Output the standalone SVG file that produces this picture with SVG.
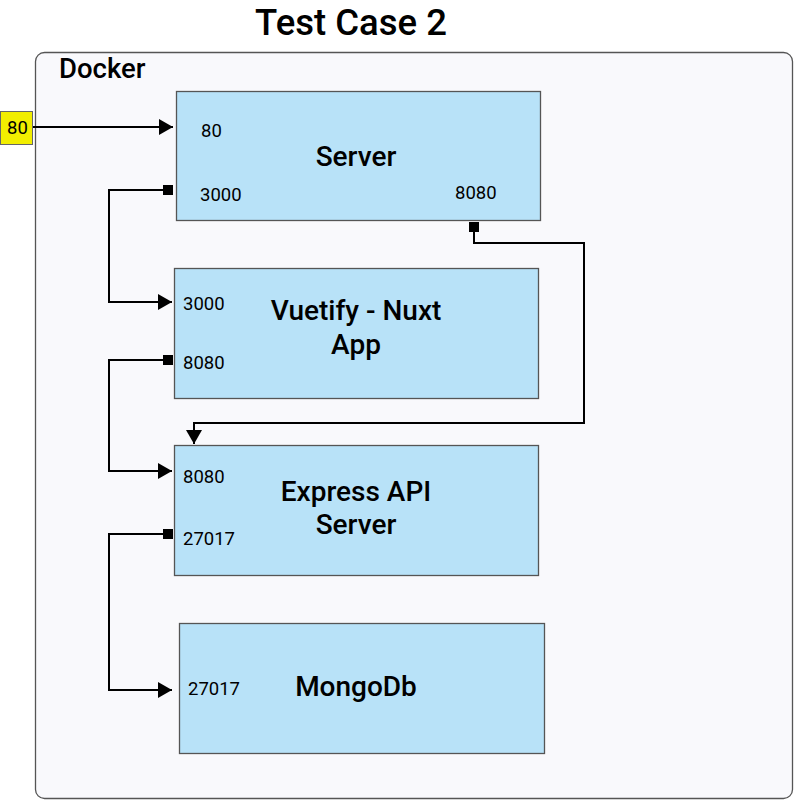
<svg xmlns="http://www.w3.org/2000/svg" width="794" height="800" viewBox="0 0 794 800">
<defs>
<marker id="arr" viewBox="0 0 14 16" refX="14" refY="8" markerWidth="14" markerHeight="16" markerUnits="userSpaceOnUse" orient="auto"><path d="M0,0 L14,8 L0,16 Z" fill="#000"/></marker>
</defs>
<style>
.box{fill:#b8e2f8;stroke:#555;stroke-width:1.3}
.lbl{font-family:Roboto,"Liberation Sans",sans-serif;font-size:28px;font-weight:500;fill:#000;text-anchor:middle}
.port{font-family:Roboto,"Liberation Sans",sans-serif;font-size:18.5px;fill:#000}
.con{fill:none;stroke:#000;stroke-width:2}
.sq{fill:#000}
</style>
<rect width="794" height="800" fill="#fff"/>
<text x="351" y="34.5" style="font-family:Roboto,'Liberation Sans',sans-serif;font-size:36.5px;font-weight:500;text-anchor:middle">Test Case 2</text>
<g id="docker">
<rect x="35.5" y="52.5" width="757" height="746" rx="9" fill="#f9f9fc" stroke="#555" stroke-width="1.3"/>
<text x="59" y="78" style="font-family:Roboto,'Liberation Sans',sans-serif;font-size:27.5px;font-weight:500">Docker</text>
</g>
<g id="port80">
<rect x="0.5" y="111.5" width="32" height="33" fill="#f2ee00" stroke="#666" stroke-width="1"/>
<text x="17.5" y="134" class="port" text-anchor="middle">80</text>
</g>
<g id="server">
<rect class="box" x="176.5" y="91.5" width="364" height="129"/>
<text class="lbl" x="356" y="166">Server</text>
<text class="port" x="201" y="137">80</text>
<text class="port" x="200" y="201">3000</text>
<text class="port" x="455" y="199">8080</text>
</g>
<g id="vuetify">
<rect class="box" x="174.5" y="268.5" width="364" height="130"/>
<text class="lbl" x="356" y="320">Vuetify - Nuxt</text>
<text class="lbl" x="356" y="354">App</text>
<text class="port" x="183" y="310">3000</text>
<text class="port" x="183" y="369">8080</text>
</g>
<g id="express">
<rect class="box" x="174.5" y="445.5" width="364" height="130"/>
<text class="lbl" x="356" y="501">Express API</text>
<text class="lbl" x="356" y="534">Server</text>
<text class="port" x="183" y="483">8080</text>
<text class="port" x="183" y="545">27017</text>
</g>
<g id="mongodb">
<rect class="box" x="179.5" y="623.5" width="365" height="130"/>
<text class="lbl" x="356" y="696">MongoDb</text>
<text class="port" x="188" y="695">27017</text>
</g>
<g id="connectors">
<path class="con" d="M33,127 L173,127" marker-end="url(#arr)"/>
<path class="con" d="M168,190 L109,190 L109,302 L172,302" marker-end="url(#arr)"/>
<rect class="sq" x="163" y="185" width="10" height="10"/>
<path class="con" d="M474,227 L474,243 L584,243 L584,423 L194,423 L194,444" marker-end="url(#arr)"/>
<rect class="sq" x="469" y="222" width="10" height="10"/>
<path class="con" d="M168,360 L109,360 L109,471 L172,471" marker-end="url(#arr)"/>
<rect class="sq" x="163" y="355" width="10" height="10"/>
<path class="con" d="M168,534 L109,534 L109,690 L172,690" marker-end="url(#arr)"/>
<rect class="sq" x="163" y="529" width="10" height="10"/>
</g>
</svg>
